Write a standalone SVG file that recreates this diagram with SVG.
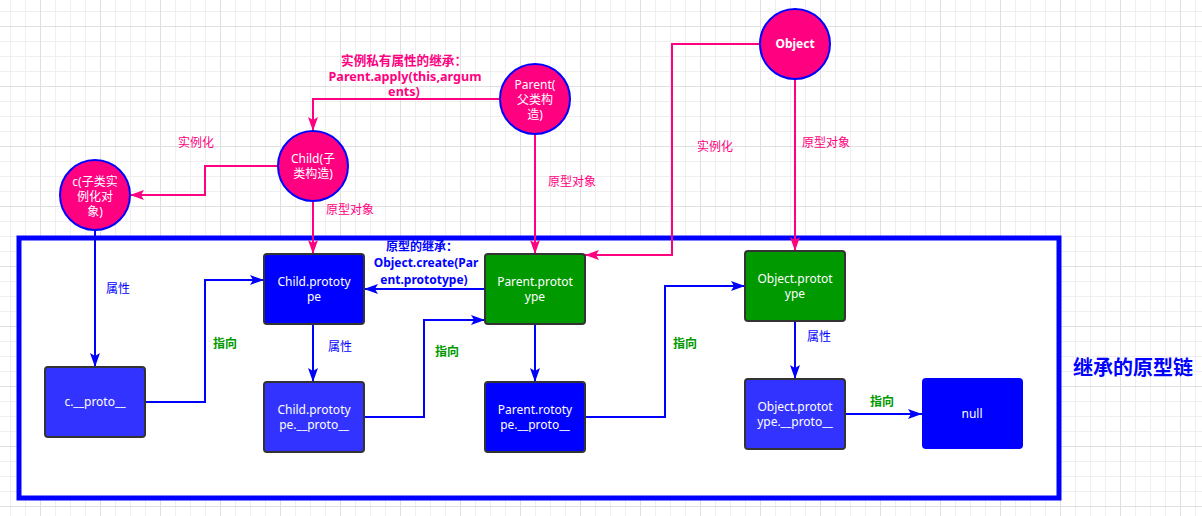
<svg xmlns="http://www.w3.org/2000/svg" width="1202" height="516" viewBox="0 0 1202 516">
<style>
text{font-family:"Noto Sans","Noto Sans CJK SC",sans-serif;font-size:12px;text-anchor:middle}
.circ{fill:#FF0080;stroke:#0000FF;stroke-width:2}
.nt{fill:#FFFFFF}
.box{stroke:#333333;stroke-width:2}
.dk{fill:#0000FF}
.lt{fill:#3333FF}
.gr{fill:#009900}
.pk{fill:none;stroke:#FF0080;stroke-width:2}
.bl{fill:none;stroke:#0000FF;stroke-width:2}
.lp{fill:#FF0080}
.lb{fill:#0000FF}
.lg{fill:#009900;font-weight:bold}
.b{font-weight:bold}
.big{font-size:12.6px}
</style>
<defs>
<pattern id="gmin" patternUnits="userSpaceOnUse" x="10" y="11" width="15" height="15">
<path d="M0.5,0V15M0,0.5H15" stroke="#EFEFEF" stroke-width="1" fill="none"/>
</pattern>
<pattern id="gmaj" patternUnits="userSpaceOnUse" x="40" y="26" width="60" height="60">
<path d="M0.5,0V60M0,0.5H60" stroke="#E0E0E0" stroke-width="1" fill="none"/>
</pattern>
<marker id="ap" markerUnits="userSpaceOnUse" markerWidth="14" markerHeight="10" refX="14" refY="5" orient="auto">
<path d="M0,0L14,5L0,10L3,5Z" fill="#FF0080"/>
</marker>
<marker id="ab" markerUnits="userSpaceOnUse" markerWidth="14" markerHeight="10" refX="14" refY="5" orient="auto">
<path d="M0,0L14,5L0,10L3,5Z" fill="#0000FF"/>
</marker>
</defs>
<rect width="1202" height="516" fill="#FFFFFF"/>
<rect width="1202" height="516" fill="url(#gmin)"/>
<rect width="1202" height="516" fill="url(#gmaj)"/>

<g id="container">
<rect x="19" y="238" width="1040" height="260" fill="#FFFFFF" stroke="#0000FF" stroke-width="5"/>
<text x="1133" y="375" class="b" style="font-size:20px;fill:#0000FF">继承的原型链</text>
</g>

<g id="connectors">
<path class="pk" d="M500,99H313V131" marker-end="url(#ap)"/>
<path class="pk" d="M278,166H205V195H130" marker-end="url(#ap)"/>
<path class="pk" d="M313,201V254" marker-end="url(#ap)"/>
<path class="pk" d="M535,134V254" marker-end="url(#ap)"/>
<path class="pk" d="M760,44H672V255H585" marker-end="url(#ap)"/>
<path class="pk" d="M795,79V251" marker-end="url(#ap)"/>
<path class="bl" d="M95,230V367" marker-end="url(#ab)"/>
<path class="bl" d="M145,402H205V280H264" marker-end="url(#ab)"/>
<path class="bl" d="M313,324V382" marker-end="url(#ab)"/>
<path class="bl" d="M485,289H364" marker-end="url(#ab)"/>
<path class="bl" d="M364,417H424V320H485" marker-end="url(#ab)"/>
<path class="bl" d="M535,324V382" marker-end="url(#ab)"/>
<path class="bl" d="M585,417H665V286H745" marker-end="url(#ab)"/>
<path class="bl" d="M795,321V379" marker-end="url(#ab)"/>
<path class="bl" d="M845,414H922" marker-end="url(#ab)"/>

<text class="lp b big" x="404" y="65">实例私有属性的继承：</text>
<text class="lp b big" x="405" y="81">Parent.apply(this,argum</text>
<text class="lp b big" x="404" y="96">ents)</text>
<text class="lp" x="196" y="147">实例化</text>
<text class="lp" x="350" y="214">原型对象</text>
<text class="lp" x="572" y="186">原型对象</text>
<text class="lp" x="715" y="151">实例化</text>
<text class="lp" x="826" y="147">原型对象</text>
<text class="lb" x="118" y="293">属性</text>
<text class="lg" x="225" y="348">指向</text>
<text class="lb" x="340" y="351">属性</text>
<text class="lb b" x="422" y="251">原型的继承：</text>
<text class="lb b" x="426" y="267">Object.create(Par</text>
<text class="lb b" x="424" y="284">ent.prototype)</text>
<text class="lg" x="447" y="356">指向</text>
<text class="lg" x="685" y="348">指向</text>
<text class="lb" x="819" y="341">属性</text>
<text class="lg" x="882" y="406">指向</text>
</g>

<g id="object">
<circle class="circ" cx="795" cy="44" r="35"/>
<text class="nt b" x="795" y="48">Object</text>
</g>
<g id="parent">
<circle class="circ" cx="535" cy="99" r="35"/>
<text class="nt" x="535" y="89">Parent(</text>
<text class="nt" x="535" y="104">父类构</text>
<text class="nt" x="535" y="119">造)</text>
</g>
<g id="child">
<circle class="circ" cx="313" cy="166" r="35"/>
<text class="nt" x="313" y="163">Child(子</text>
<text class="nt" x="313" y="178">类构造)</text>
</g>
<g id="c">
<circle class="circ" cx="95" cy="195" r="35"/>
<text class="nt" x="95" y="186">c(子类实</text>
<text class="nt" x="95" y="201">例化对</text>
<text class="nt" x="95" y="216">象)</text>
</g>

<g id="child-prototype">
<rect class="box dk" x="264" y="254" width="100" height="70" rx="3"/>
<text class="nt" x="314" y="286">Child.prototy</text>
<text class="nt" x="314" y="301">pe</text>
</g>
<g id="c-proto">
<rect class="box lt" x="45" y="367" width="100" height="70" rx="3"/>
<text class="nt" x="95" y="406">c.__proto__</text>
</g>
<g id="child-prototype-proto">
<rect class="box lt" x="264" y="382" width="100" height="70" rx="3"/>
<text class="nt" x="314" y="414">Child.prototy</text>
<text class="nt" x="314" y="429">pe.__proto__</text>
</g>
<g id="parent-prototype">
<rect class="box gr" x="485" y="254" width="100" height="70" rx="3"/>
<text class="nt" x="535" y="286">Parent.protot</text>
<text class="nt" x="535" y="301">ype</text>
</g>
<g id="parent-prototype-proto">
<rect class="box dk" x="485" y="382" width="100" height="70" rx="3"/>
<text class="nt" x="535" y="414">Parent.rototy</text>
<text class="nt" x="535" y="429">pe.__proto__</text>
</g>
<g id="object-prototype">
<rect class="box gr" x="745" y="251" width="100" height="70" rx="3"/>
<text class="nt" x="795" y="283">Object.protot</text>
<text class="nt" x="795" y="298">ype</text>
</g>
<g id="object-prototype-proto">
<rect class="box lt" x="745" y="379" width="100" height="70" rx="3"/>
<text class="nt" x="795" y="411">Object.protot</text>
<text class="nt" x="795" y="426">ype.__proto__</text>
</g>
<g id="null">
<rect class="dk" x="922" y="378" width="101" height="71" rx="4"/>
<text class="nt" x="972" y="418">null</text>
</g>
</svg>
